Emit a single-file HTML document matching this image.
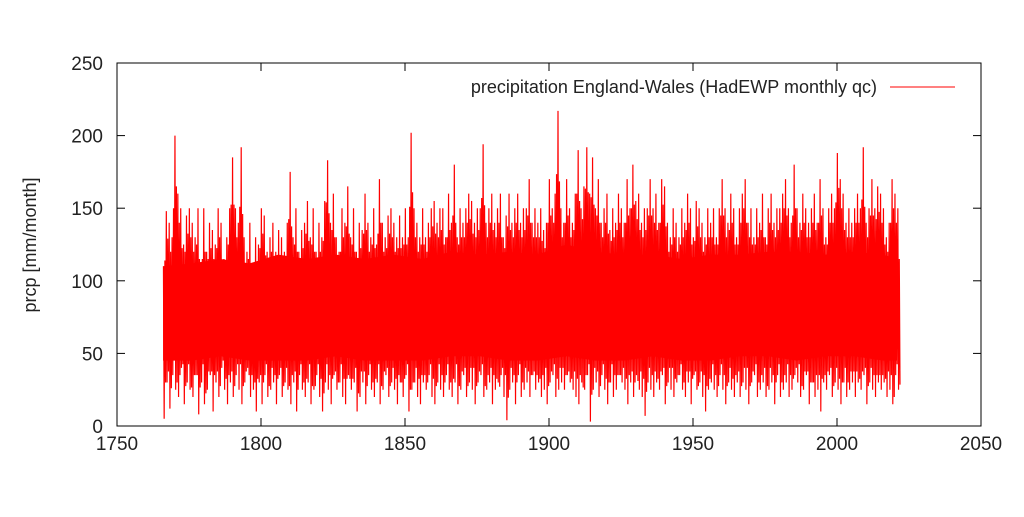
<!DOCTYPE html>
<html><head><meta charset="utf-8">
<style>
body{margin:0;background:#fff;}
svg text{font-family:"Liberation Sans",sans-serif;fill:#222;}
</style></head>
<body>
<svg id="chart" width="1024" height="512" xmlns="http://www.w3.org/2000/svg">
<rect x="117" y="63" width="864" height="363" fill="none" stroke="#000" stroke-width="1"/>
<g id="ticks"></g>
<path id="core" fill="#f00" stroke="none"/>
<path id="series" fill="none" stroke="#f00" stroke-width="1.2"/>
<text transform="translate(36,245) rotate(-90)" text-anchor="middle" font-size="18">prcp [mm/month]</text>
<text x="877" y="93" text-anchor="end" font-size="18">precipitation England-Wales (HadEWP monthly qc)</text>
<line x1="890" y1="87" x2="955" y2="87" stroke="#f00" stroke-width="1"/>
</svg>
<script>
const xTicks=[1750,1800,1850,1900,1950,2000,2050];
const yTicks=[0,50,100,150,200,250];
const startYear=1766;
const coreYears=[1766,1776,1786,1796,1806,1816,1826,1836,1846,1856,1866,1876,1886,1896,1906,1916,1926,1936,1946,1956,1966,1976,1986,1996,2006,2016,2021];
const coreUpper=[110,112,115,112,118,115,118,115,118,115,120,118,120,118,125,120,118,118,115,118,118,120,120,118,120,118,115];
const coreLower=[45,45,48,45,45,45,48,45,45,45,48,48,45,45,48,45,45,48,45,45,48,48,45,48,48,45,45];
const yearHighs=[110,148,140,130,200,160,150,125,145,150,
140,130,150,110,150,120,140,135,125,150,
140,115,130,150,185,150,140,192,130,120,
140,110,130,125,150,145,120,130,140,120,
135,130,120,140,175,130,150,120,135,140,
155,130,150,120,140,130,155,183,140,160,
130,120,150,140,165,130,150,120,140,135,
160,140,130,150,125,170,140,130,145,150,
140,130,145,130,150,130,202,150,140,130,
150,130,140,150,155,140,150,150,130,160,
140,180,130,150,140,150,160,155,140,150,
150,194,140,150,160,140,150,160,130,145,
160,140,150,160,140,150,150,170,140,150,
140,150,135,140,170,150,160,217,150,140,
170,150,140,160,190,150,165,192,160,185,
150,170,140,150,160,135,150,140,160,150,
140,170,150,180,155,160,140,150,150,170,
150,160,140,170,165,140,130,150,140,130,
150,140,160,150,130,155,150,140,130,150,
140,150,130,150,170,150,140,160,150,130,
150,160,170,140,150,130,150,140,160,130,
150,160,140,150,150,160,170,150,140,180,
150,140,160,150,140,150,160,140,170,150,
130,150,160,150,188,170,160,140,150,140,
150,160,150,192,140,150,170,150,165,160,
150,130,140,170,160,150];
const yearLows=[5,30,12,35,25,20,40,15,30,25,
20,35,8,30,15,25,35,10,30,20,
40,25,15,30,20,35,25,15,30,40,
20,25,10,30,15,35,20,25,30,15,
35,20,30,25,15,30,10,35,25,20,
30,15,25,35,20,10,30,25,15,35,
25,30,20,15,35,25,30,10,20,30,
15,35,25,20,30,15,25,35,20,30,
25,15,30,20,35,10,25,30,20,15,
30,25,35,20,15,30,25,20,35,25,
20,30,15,25,35,20,30,25,15,30,
35,20,25,30,15,25,30,35,20,4,
25,30,15,35,20,25,30,20,35,25,
30,20,25,15,30,35,20,25,30,25,
35,30,25,20,15,30,25,35,3,25,
30,20,35,25,15,30,20,25,35,30,
25,15,30,20,35,25,20,7,30,25,
20,30,25,35,15,30,25,20,30,35,
25,20,30,15,35,25,30,20,10,25,
30,25,20,35,25,15,30,25,20,30,
20,30,25,15,30,35,20,25,30,20,
25,30,15,35,20,25,30,20,25,35,
30,20,25,35,15,30,20,25,10,30,
25,35,20,30,25,15,30,20,25,30,
20,30,25,35,15,30,25,20,30,25,
30,20,25,15,35,25];
const X0=117,X1=981,Y0=426,Y1=63;
function xs(v){return X0+(v-1750)/(2050-1750)*(X1-X0);}
function ys(v){return Y0-(v/250)*(Y0-Y1);}
const tg=document.getElementById('ticks');
const NS='http://www.w3.org/2000/svg';
xTicks.forEach(t=>{
  const x=xs(t);
  [[Y0,Y0-8],[Y1,Y1+8]].forEach(p=>{
    const l=document.createElementNS(NS,'line');
    
    
    l.setAttribute('x1',x);l.setAttribute('x2',x);l.setAttribute('y1',p[0]);l.setAttribute('y2',p[1]);
    l.setAttribute('stroke','#000');tg.appendChild(l);
  });
  const tx=document.createElementNS(NS,'text');
  
  
  tx.setAttribute('x',x);tx.setAttribute('y',Y0+24);tx.setAttribute('text-anchor','middle');tx.setAttribute('font-size','19');
  tx.textContent=t;tg.appendChild(tx);
});
yTicks.forEach(t=>{
  const y=ys(t);
  [[X0,X0+8],[X1,X1-8]].forEach(p=>{
    const l=document.createElementNS(NS,'line');
    
    
    l.setAttribute('x1',p[0]);l.setAttribute('x2',p[1]);l.setAttribute('y1',y);l.setAttribute('y2',y);
    l.setAttribute('stroke','#000');tg.appendChild(l);
  });
  const tx=document.createElementNS(NS,'text');
  
  
  tx.setAttribute('x',X0-14);tx.setAttribute('y',y+7);tx.setAttribute('text-anchor','end');tx.setAttribute('font-size','19');
  tx.textContent=t;tg.appendChild(tx);
});
let c='';
coreYears.forEach((yr,i)=>{c+=(i===0?'M':'L')+xs(yr).toFixed(2)+','+ys(coreUpper[i]).toFixed(2);});
for(let i=coreYears.length-1;i>=0;i--){c+='L'+xs(coreYears[i]).toFixed(2)+','+ys(coreLower[i]).toFixed(2);}
document.getElementById('core').setAttribute('d',c+'Z');
let d='';
const n=Math.min(yearHighs.length,yearLows.length);
for(let i=0;i<n;i++){
  const yr=startYear+i;
  const nh=yearHighs[(i+1)%n], nl=yearLows[(i+3)%n];
  d+=(i===0?'M':'L')+xs(yr+0.125).toFixed(2)+','+ys(yearHighs[i]).toFixed(2);
  d+='L'+xs(yr+0.375).toFixed(2)+','+ys(yearLows[i]).toFixed(2);
  d+='L'+xs(yr+0.625).toFixed(2)+','+ys((yearHighs[i]+nh)/2-15).toFixed(2);
  d+='L'+xs(yr+0.875).toFixed(2)+','+ys((yearLows[i]+nl)/2+10).toFixed(2);
}
document.getElementById('series').setAttribute('d',d);
</script>
</body></html>
